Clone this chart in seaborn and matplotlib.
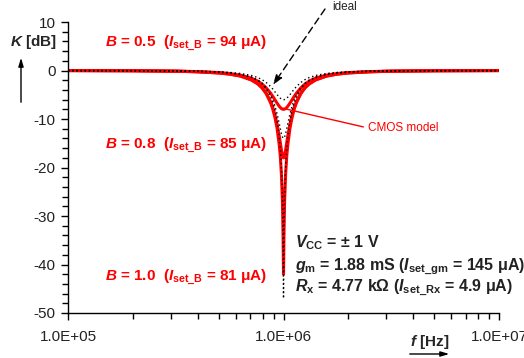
import numpy as np
import pandas as pd
import matplotlib
matplotlib.use("Agg")
import matplotlib.pyplot as plt
import seaborn as sns
from matplotlib.ticker import FixedLocator, FuncFormatter, LogLocator, NullFormatter, MultipleLocator

# frequency grid [Hz]
freq_hz = [1.0e5, 1.995e5, 3.162e5, 3.981e5, 5.012e5, 5.623e5, 6.310e5, 7.079e5, 7.586e5, 7.943e5,
           8.318e5, 8.710e5, 8.913e5, 9.120e5, 9.333e5, 9.550e5, 9.661e5, 9.772e5, 9.886e5, 9.954e5,
           9.977e5, 1.0e6, 1.0023e6, 1.0046e6, 1.0116e6, 1.0233e6, 1.0351e6, 1.0471e6, 1.0715e6, 1.0965e6,
           1.1220e6, 1.1482e6, 1.2023e6, 1.2589e6, 1.3183e6, 1.4125e6, 1.5849e6, 1.7783e6, 1.9953e6,
           2.5119e6, 3.1623e6, 5.0119e6, 1.0e7]

# CMOS model, K [dB]
cmos_b05 = [-0.01, -0.04, -0.12, -0.22, -0.42, -0.62, -0.95, -1.56, -2.18, -2.78,
            -3.60, -4.67, -5.31, -6.02, -6.72, -7.36, -7.62, -7.83, -7.96, -7.99,
            -8.00, -8.00, -8.00, -7.99, -7.96, -7.83, -7.62, -7.36, -6.72, -6.02,
            -5.31, -4.67, -3.60, -2.78, -2.18, -1.56, -0.95, -0.62, -0.42,
            -0.22, -0.12, -0.04, -0.01]
cmos_b08 = [-0.01, -0.05, -0.14, -0.26, -0.50, -0.73, -1.13, -1.89, -2.69, -3.50,
            -4.67, -6.40, -7.57, -9.09, -11.00, -13.46, -14.86, -16.32, -17.50, -17.92,
            -17.98, -18.00, -17.98, -17.92, -17.50, -16.32, -14.86, -13.46, -11.00, -9.09,
            -7.57, -6.40, -4.67, -3.50, -2.69, -1.89, -1.13, -0.73, -0.50,
            -0.26, -0.14, -0.05, -0.01]
cmos_b10 = [-0.01, -0.05, -0.15, -0.26, -0.51, -0.75, -1.15, -1.93, -2.75, -3.58,
            -4.80, -6.64, -7.92, -9.62, -11.90, -15.26, -17.66, -21.16, -26.96, -34.31,
            -38.56, -42.00, -38.56, -34.31, -26.96, -21.16, -17.66, -15.26, -11.90, -9.62,
            -7.92, -6.64, -4.80, -3.58, -2.75, -1.93, -1.15, -0.75, -0.51,
            -0.26, -0.15, -0.05, -0.01]

# ideal, K [dB]
ideal_b05 = [-0.01, -0.03, -0.08, -0.13, -0.26, -0.39, -0.60, -1.01, -1.44, -1.87,
             -2.48, -3.31, -3.82, -4.39, -4.96, -5.49, -5.71, -5.88, -5.98, -6.02,
             -6.02, -6.02, -6.02, -6.02, -5.98, -5.88, -5.71, -5.49, -4.96, -4.39,
             -3.82, -3.31, -2.48, -1.87, -1.44, -1.01, -0.60, -0.39, -0.26,
             -0.13, -0.08, -0.03, -0.01]
ideal_b08 = [-0.01, -0.03, -0.10, -0.17, -0.34, -0.50, -0.78, -1.34, -1.95, -2.58,
             -3.53, -4.99, -6.00, -7.30, -8.92, -10.90, -11.95, -12.95, -13.69, -13.93,
             -13.97, -13.98, -13.97, -13.93, -13.69, -12.95, -11.95, -10.90, -8.92, -7.30,
             -6.00, -4.99, -3.53, -2.58, -1.95, -1.34, -0.78, -0.50, -0.34,
             -0.17, -0.10, -0.03, -0.01]
ideal_b10 = [-0.01, -0.04, -0.10, -0.18, -0.35, -0.52, -0.82, -1.40, -2.05, -2.73,
             -3.77, -5.40, -6.57, -8.18, -10.37, -13.67, -16.05, -19.55, -25.44, -33.46,
             -39.50, -47.00, -39.50, -33.46, -25.44, -19.55, -16.05, -13.67, -10.37, -8.18,
             -6.57, -5.40, -3.77, -2.73, -2.05, -1.40, -0.82, -0.52, -0.35,
             -0.18, -0.10, -0.04, -0.01]

b_labels = [r"$B$ = 0.5  ($I_{\mathrm{set\_B}}$ = 94 μA)",
            r"$B$ = 0.8  ($I_{\mathrm{set\_B}}$ = 85 μA)",
            r"$B$ = 1.0  ($I_{\mathrm{set\_B}}$ = 81 μA)"]
params_text = [r"$V_{\mathrm{CC}}$ = ± 1 V",
               r"$g_{\mathrm{m}}$ = 1.88 mS ($I_{\mathrm{set\_gm}}$ = 145 μA)",
               r"$R_{\mathrm{x}}$ = 4.77 kΩ ($I_{\mathrm{set\_Rx}}$ = 4.9 μA)"]

sns.set_style("ticks")
plt.rcParams['font.family'] = ['Liberation Sans', 'DejaVu Sans']
plt.rcParams['mathtext.fontset'] = 'custom'
plt.rcParams['mathtext.rm'] = 'Liberation Sans:bold'
plt.rcParams['mathtext.it'] = 'Liberation Sans:italic:bold'
plt.rcParams['mathtext.bf'] = 'Liberation Sans:bold'
plt.rcParams['axes.unicode_minus'] = False

fig = plt.figure(figsize=(5.24, 3.58), dpi=100)
ax = fig.add_axes([0.1298, 0.1257, 0.8225, 0.8128])

for vals in [cmos_b05, cmos_b08, cmos_b10]:
    sns.lineplot(x=freq_hz, y=vals, ax=ax, color='#ff0000', lw=2.2, sort=False)
for vals in [ideal_b05, ideal_b08, ideal_b10]:
    sns.lineplot(x=freq_hz, y=vals, ax=ax, color='black', lw=1.0,
                 linestyle=(0, (1, 2)), sort=False)

ax.set_xscale('log')
ax.set_xlim(1e5, 1e7)
ax.set_ylim(-50, 10)
ax.set_xlabel('')
ax.set_ylabel('')
sns.despine(ax=ax)
for s in ['left', 'bottom']:
    ax.spines[s].set_linewidth(1.0)
    ax.spines[s].set_color('black')

ax.xaxis.set_major_locator(FixedLocator([1e5, 1e6, 1e7]))
ax.xaxis.set_major_formatter(FuncFormatter(lambda v, p: "{:.1E}".format(v)))
ax.xaxis.set_minor_locator(LogLocator(base=10, subs=np.arange(2, 10)))
ax.xaxis.set_minor_formatter(NullFormatter())
ax.yaxis.set_major_locator(MultipleLocator(10))
ax.yaxis.set_minor_locator(MultipleLocator(2))
ax.tick_params(which='both', direction='out', color='black', width=1.0, labelsize=11, labelcolor='#222222')
ax.tick_params(which='major', length=5)
ax.tick_params(which='minor', length=4)
ax.tick_params(axis='x', which='major', pad=7)
ax.tick_params(axis='y', which='major', pad=4)

# red B labels
for lab, yv in zip(b_labels, [5.7, -15.4, -42.7]):
    ax.text(1.485e5, yv, lab, color='#ff0000', fontsize=11, fontweight='bold', ha='left', va='center')

for lab, yv in zip(params_text, [-35.4, -40.4, -44.9]):
    ax.text(1.131e6, yv, lab, color='#222222', fontsize=11.5, fontweight='bold', ha='left', va='center')

# axis labels with arrows
fig.text(10 / 524, 1 - 42 / 358, r"$K$ [dB]", fontsize=11, fontweight='bold', ha='left', va='center')
ax.annotate('', xy=(21 / 524, 1 - 55 / 358), xycoords='figure fraction',
            xytext=(21 / 524, 1 - 105 / 358), textcoords='figure fraction',
            arrowprops=dict(arrowstyle='-|>,head_length=0.5,head_width=0.15', color='black', lw=1.0))
fig.text(430 / 524, 1 - 342 / 358, r"$f$ [Hz]", fontsize=11, fontweight='bold', ha='center', va='center')
ax.annotate('', xy=(452 / 524, 1 - 354 / 358), xycoords='figure fraction',
            xytext=(407 / 524, 1 - 354 / 358), textcoords='figure fraction',
            arrowprops=dict(arrowstyle='-|>,head_length=0.5,head_width=0.15', color='black', lw=1.0))

# ideal pointer
fig.text(332 / 524, 1 - 7 / 358, "ideal", fontsize=8.5, color='#222222', ha='left', va='center')
ax.annotate('', xy=(8.93e5, -3.0), xycoords='data',
            xytext=(325 / 524, 1 - 9 / 358), textcoords='figure fraction',
            arrowprops=dict(arrowstyle='-|>,head_length=0.6,head_width=0.2', color='black', lw=1.0,
                            linestyle=(0, (5, 3)), shrinkA=0, shrinkB=0))

# CMOS model pointer
ax.annotate("CMOS model", xy=(9.95e5, -7.8), xycoords='data',
            xytext=(368 / 524, 1 - 128 / 358), textcoords='figure fraction',
            color='#ff0000', fontsize=8.5, ha='left', va='center',
            arrowprops=dict(arrowstyle='-', color='#ff0000', lw=1.0, relpos=(0, 0.5),
                            shrinkA=1, shrinkB=0))

fig.savefig('out.png', dpi=100)
